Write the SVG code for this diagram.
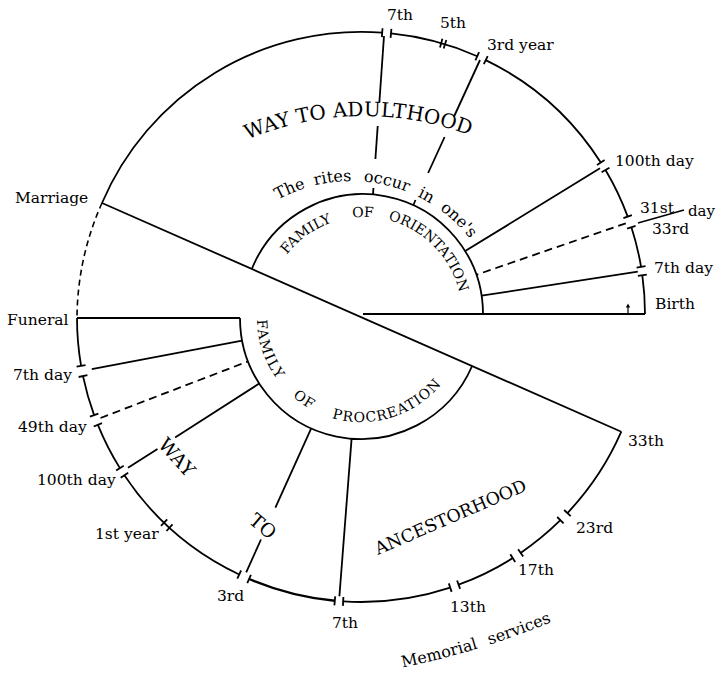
<svg xmlns="http://www.w3.org/2000/svg" width="718" height="678" viewBox="0 0 718 678">
<defs>
<style>
.ln{fill:none;stroke:#000;stroke-width:1.8}
.thick{fill:none;stroke:#000;stroke-width:2.4}
.ds{fill:none;stroke:#000;stroke-width:1.8;stroke-dasharray:8 5}
.dsa{fill:none;stroke:#000;stroke-width:1.6;stroke-dasharray:6 4}
.tk{stroke:#000;stroke-width:1.8}
text{font-family:"DejaVu Serif","Liberation Serif",serif;fill:#000}
.lb{font-size:15.5px}
.big{font-size:20px}
.mid{font-size:16px}
.sm{font-size:14px}
</style>
<path id="pAdult" d="M135,222.8 A299,299 0 0 1 593,222.8"/>
<path id="pRites" d="M208.2,281 A152,152 0 0 1 500.7,306.6"/>
<path id="pOrient" d="M266,315 A98,98 0 0 1 462,315"/>
<path id="pProc" d="M258.6,299.9 A104,104 0 1 0 463.4,299.9"/>
<path id="pMem" d="M308.6,681.3 A822,822 0 0 0 648,574.3"/>
</defs>
<rect width="718" height="678" fill="#fff"/>

<!-- Upper half: way to adulthood (outer arc) -->
<g id="adulthood-arc">
<path class="ln" d="M102,203 A282,282 0 0 1 382.2,32.7"/>
<path class="ln" d="M391,33.4 A282,282 0 0 1 477.2,56.2"/>
<path class="ln" d="M485.7,60.1 A282,282 0 0 1 600.8,162.5"/>
<path class="ln" d="M605.5,170 A282,282 0 0 1 627.7,216.6"/>
<path class="ln" d="M631.4,227.3 A282,282 0 0 1 641.1,267"/>
<path class="ln" d="M642.3,275.2 A282,282 0 0 1 645,314"/>
<line class="tk" x1="381.9" y1="37.1" x2="382.5" y2="28.2"/>
<line class="tk" x1="390.6" y1="37.9" x2="391.4" y2="28.9"/>
<line class="tk" x1="440" y1="47.4" x2="442.4" y2="38.7"/>
<line class="tk" x1="443.7" y1="48.5" x2="446.3" y2="39.9"/>
<line class="tk" x1="475.4" y1="60.3" x2="479.1" y2="52.1"/>
<line class="tk" x1="483.8" y1="64.2" x2="487.7" y2="56.1"/>
<line class="tk" x1="597" y1="164.9" x2="604.6" y2="160.1"/>
<line class="tk" x1="601.6" y1="172.3" x2="609.4" y2="167.7"/>
<line class="tk" x1="623.4" y1="218.2" x2="631.9" y2="215.1"/>
<line class="tk" x1="627.1" y1="228.7" x2="635.6" y2="225.9"/>
<line class="tk" x1="636.6" y1="267.7" x2="645.5" y2="266.2"/>
<line class="tk" x1="637.9" y1="275.9" x2="646.8" y2="274.6"/>
<path d="M628,313 V306" class="ln" style="stroke-width:1.2"/>
<path d="M625.8,307.5 L628,303.5 L630.2,307.5 Z" fill="#000"/>
</g>

<!-- Family of orientation -->
<g id="family-orientation">
<path class="ln" d="M251.8,269 A120,120 0 0 1 483,314"/>
<text class="sm"><textPath href="#pOrient" startOffset="65">FAMILY</textPath></text>
<text class="sm"><textPath href="#pOrient" startOffset="142">OF</textPath></text>
<text class="sm"><textPath href="#pOrient" startOffset="178">ORIENTATION</textPath></text>
</g>

<!-- Lower half: way to ancestorhood (outer arc) -->
<g id="ancestorhood-arc">
<path class="dsa" d="M102,203 A284,284 0 0 0 77,318"/>
<path class="ln" d="M77,318 A284,284 0 0 0 81.1,365.9"/>
<path class="ln" d="M83,376.1 A284,284 0 0 0 94.1,415.1"/>
<path class="ln" d="M97.9,424.8 A284,284 0 0 0 119.9,468.1"/>
<path class="ln" d="M124.4,475.2 A284,284 0 0 0 239.2,574.5"/>
<path class="thick" d="M249.1,579 A284,284 0 0 0 334.8,600.8"/>
<path class="ln" d="M343.2,601.4 A284,284 0 0 0 450.2,587.6"/>
<path class="ln" d="M458.6,584.7 A284,284 0 0 0 512.8,558.1"/>
<path class="ln" d="M520.6,552.9 A284,284 0 0 0 560.4,520.2"/>
<path class="ln" d="M567.4,513.1 A284,284 0 0 0 621.3,431.7"/>
<line class="tk" x1="85.5" y1="365.1" x2="76.6" y2="366.6"/>
<line class="tk" x1="87.4" y1="375.2" x2="78.6" y2="377"/>
<line class="tk" x1="98.4" y1="413.6" x2="89.9" y2="416.7"/>
<line class="tk" x1="102" y1="423.2" x2="93.7" y2="426.5"/>
<line class="tk" x1="123.7" y1="465.7" x2="116.1" y2="470.5"/>
<line class="tk" x1="128.2" y1="472.7" x2="120.7" y2="477.7"/>
<line class="tk" x1="167.2" y1="519.4" x2="161" y2="525.9"/>
<line class="tk" x1="172.5" y1="524.4" x2="166.5" y2="531"/>
<line class="tk" x1="241.1" y1="570.5" x2="237.3" y2="578.6"/>
<line class="tk" x1="250.9" y1="574.9" x2="247.3" y2="583.2"/>
<line class="tk" x1="335.2" y1="596.3" x2="334.4" y2="605.3"/>
<line class="tk" x1="343.4" y1="597" x2="342.9" y2="605.9"/>
<line class="tk" x1="448.8" y1="583.4" x2="451.6" y2="591.9"/>
<line class="tk" x1="457.1" y1="580.5" x2="460.1" y2="588.9"/>
<line class="tk" x1="510.3" y1="554.2" x2="515.2" y2="561.9"/>
<line class="tk" x1="518.1" y1="549.2" x2="523.2" y2="556.6"/>
<line class="tk" x1="557.2" y1="517" x2="563.6" y2="523.4"/>
<line class="tk" x1="564.1" y1="510" x2="570.7" y2="516.2"/>
</g>

<!-- Family of procreation -->
<g id="family-procreation">
<path class="ln" d="M240,318 A121,121 0 0 0 472.1,366"/>
<text class="sm" letter-spacing="1.5"><textPath href="#pProc" startOffset="20">FAMILY</textPath></text>
<text class="sm" letter-spacing="1"><textPath href="#pProc" startOffset="107">OF</textPath></text>
<text class="sm" letter-spacing="1"><textPath href="#pProc" startOffset="152">PROCREATION</textPath></text>
</g>

<!-- Connectors -->
<g id="connectors">
<line class="ln" x1="102" y1="203" x2="621.3" y2="431.7"/>
<line class="ln" x1="363" y1="314" x2="645" y2="314"/>
<line class="ln" x1="77" y1="318" x2="240" y2="318"/>
<line class="ln" x1="384" y1="36" x2="379.4" y2="102"/>
<line class="ln" x1="377.7" y1="126" x2="375.4" y2="159"/>
<line class="ln" x1="373.4" y1="188" x2="373" y2="194.4"/>
<line class="ln" x1="480" y1="60" x2="453.8" y2="117"/>
<line class="ln" x1="444.6" y1="137" x2="428.1" y2="173"/>
<line class="ln" x1="415.5" y1="200" x2="413.4" y2="205"/>
<line class="ln" x1="600" y1="168.3" x2="465.2" y2="251.1"/>
<line class="ds" x1="625.8" y1="223.3" x2="476.4" y2="274.8"/>
<line class="ln" x1="637.8" y1="271.7" x2="481.6" y2="295.7"/>
<line class="ln" x1="638" y1="223" x2="684" y2="210" style="stroke-width:1.4"/>
<line class="ln" x1="91.8" y1="369.1" x2="242.1" y2="340.6"/>
<line class="ds" x1="100.5" y1="418" x2="248" y2="361.4"/>
<line class="ln" x1="128" y1="467.8" x2="157.5" y2="448.9"/>
<line class="ln" x1="175.1" y1="437.6" x2="259.2" y2="383.5"/>
<line class="ln" x1="246.2" y1="572.3" x2="261" y2="539.5"/>
<line class="ln" x1="275.4" y1="507.6" x2="311.2" y2="428.3"/>
<line class="ln" x1="339.4" y1="596.2" x2="351.6" y2="438.6"/>
</g>

<!-- Region texts -->
<g id="region-texts">
<text class="big"><textPath href="#pAdult" startOffset="141">WAY TO ADULTHOOD</textPath></text>
<text class="mid"><textPath href="#pRites" startOffset="109">The</textPath></text>
<text class="mid"><textPath href="#pRites" startOffset="149">rites</textPath></text>
<text class="mid"><textPath href="#pRites" startOffset="198">occur</textPath></text>
<text class="mid"><textPath href="#pRites" startOffset="254">in</textPath></text>
<text class="mid"><textPath href="#pRites" startOffset="280">one's</textPath></text>
<text style="font-size:19px" text-anchor="middle" transform="translate(171.9,461.6) rotate(48)">WAY</text>
<text style="font-size:19px" text-anchor="middle" transform="translate(258.6,531.3) rotate(40)">TO</text>
<text style="font-size:17.5px" transform="translate(378,555) rotate(-23.4)">ANCESTORHOOD</text>
<text class="mid"><textPath href="#pMem" startOffset="95">Memorial</textPath></text>
<text class="mid"><textPath href="#pMem" startOffset="185">services</textPath></text>
</g>

<!-- Labels -->
<g id="labels">
<text class="lb" x="387" y="20">7th</text>
<text class="lb" x="440" y="28">5th</text>
<text class="lb" x="487" y="50">3rd year</text>
<text class="lb" x="615" y="166">100th day</text>
<text class="lb" x="640" y="213">31st</text>
<text class="lb" x="688" y="216" style="font-size:15px">day</text>
<text class="lb" x="652" y="234">33rd</text>
<text class="lb" x="654" y="273">7th day</text>
<text class="lb" x="655" y="309">Birth</text>
<text class="lb" x="15" y="203">Marriage</text>
<text class="lb" x="7" y="325">Funeral</text>
<text class="lb" x="13" y="380">7th day</text>
<text class="lb" x="18" y="432">49th day</text>
<text class="lb" x="37" y="485">100th day</text>
<text class="lb" x="95" y="539">1st year</text>
<text class="lb" x="217" y="601">3rd</text>
<text class="lb" x="332" y="628">7th</text>
<text class="lb" x="450" y="612">13th</text>
<text class="lb" x="518" y="575">17th</text>
<text class="lb" x="576" y="533">23rd</text>
<text class="lb" x="628" y="446">33th</text>
</g>
</svg>
